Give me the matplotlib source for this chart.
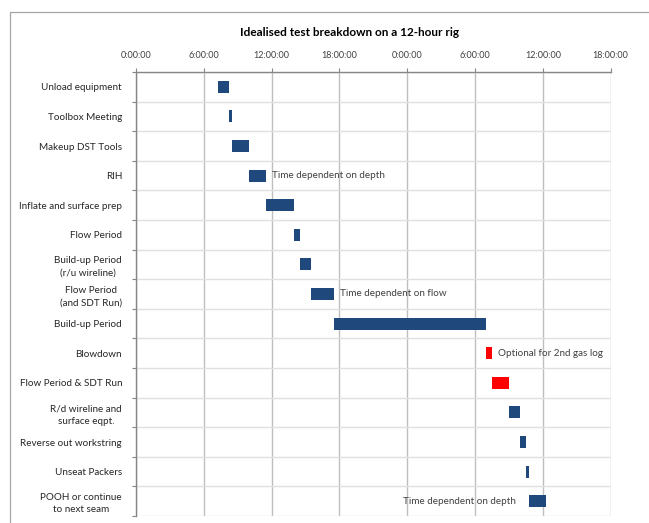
import matplotlib
matplotlib.use("Agg")
import matplotlib.pyplot as plt
from matplotlib.lines import Line2D

# Activities of the test, top to bottom
tasks = [
    "Unload equipment",
    "Toolbox Meeting",
    "Makeup DST Tools",
    "RIH",
    "Inflate and surface prep",
    "Flow Period",
    "Build-up Period\n(r/u wireline)",
    "Flow Period\n(and SDT Run)",
    "Build-up Period",
    "Blowdown",
    "Flow Period & SDT Run",
    "R/d wireline and\nsurface eqpt.",
    "Reverse out workstring",
    "Unseat Packers",
    "POOH or continue\nto next seam",
]
# Start time and duration in hours from midnight of day 1
start_h = [7.25, 8.25, 8.5, 10.0, 11.5, 14.0, 14.5, 15.5, 17.5, 31.0, 31.5, 33.0, 34.0, 34.5, 34.75]
duration_h = [1.0, 0.25, 1.5, 1.5, 2.5, 0.5, 1.0, 2.0, 13.5, 0.5, 1.5, 1.0, 0.5, 0.25, 1.5]
optional = [False] * 9 + [True, True] + [False] * 4

tick_hours = [0, 6, 12, 18, 24, 30, 36, 42]
tick_labels = ["0:00:00", "6:00:00", "12:00:00", "18:00:00",
               "0:00:00", "6:00:00", "12:00:00", "18:00:00"]

# Notes attached to particular activities: (row, text, side)
notes = [
    (3, "Time dependent on depth", "right"),
    (7, "Time dependent on flow", "right"),
    (9, "Optional for 2nd gas log", "right"),
    (14, "Time dependent on depth", "left"),
]

plt.rcParams["font.family"] = ["Lato", "DejaVu Sans"]

W, H = 649, 523
fig = plt.figure(figsize=(W / 100, H / 100), dpi=100)
ax = fig.add_axes([136 / W, 1 - 516 / H, (610.6 - 136) / W, (516 - 72) / H])

blue = "#1F497D"
red = "#FF0000"
rows = list(range(len(tasks)))
colors = [red if o else blue for o in optional]
ax.barh(rows, duration_h, left=start_h, height=0.4, color=colors,
        edgecolor="none", zorder=3)

for row, text, side in notes:
    if side == "right":
        x = start_h[row] + duration_h[row]
        ax.annotate(text, (x, row), xytext=(4.5, 0), textcoords="offset points",
                    ha="left", va="center", fontsize=7.1, color="#404040")
    else:
        x = start_h[row]
        ax.annotate(text, (x, row), xytext=(-9, 0), textcoords="offset points",
                    ha="right", va="center", fontsize=7.1, color="#404040")

ax.set_xlim(0, 42)
ax.set_ylim(len(tasks) - 0.5, -0.5)

ax.xaxis.tick_top()
ax.set_xticks(tick_hours)
ax.set_xticklabels(tick_labels, fontsize=6.5, color="#404040")
ax.tick_params(axis="x", which="major", length=3, width=0.8, color="#868686", pad=6)

ax.set_yticks(rows)
ax.set_yticklabels(tasks, fontsize=7.1, color="#262626", multialignment="center",
                   linespacing=1.45)
ax.tick_params(axis="y", which="major", length=0, pad=10)
ax.set_yticks([r - 0.5 for r in rows] + [len(tasks) - 0.5], minor=True)
ax.tick_params(axis="y", which="minor", length=3, width=0.8, color="#868686")

ax.grid(axis="x", which="major", color="#bfbfbf", linewidth=1.0, zorder=0)
ax.grid(axis="y", which="minor", color="#e0e0e0", linewidth=1.0, zorder=0)
ax.set_axisbelow(True)

for side in ("right", "bottom"):
    ax.spines[side].set_visible(False)
ax.spines["top"].set_color("#868686")
ax.spines["left"].set_color("#868686")
ax.spines["top"].set_linewidth(1.0)
ax.spines["left"].set_linewidth(1.0)

fig.text(350 / W, 1 - 33 / H, "Idealised test breakdown on a 12-hour rig",
         ha="center", va="center", fontsize=8.5, fontweight="bold", color="#000000")

# Chart-area frame
fx = 9.5 / W
fy = 1 - 11.5 / H
fig.add_artist(Line2D([fx, fx, 1.0], [0.0, fy, fy], transform=fig.transFigure,
                      color="#a6a6a6", linewidth=0.9))

fig.savefig("out.png", dpi=100)
